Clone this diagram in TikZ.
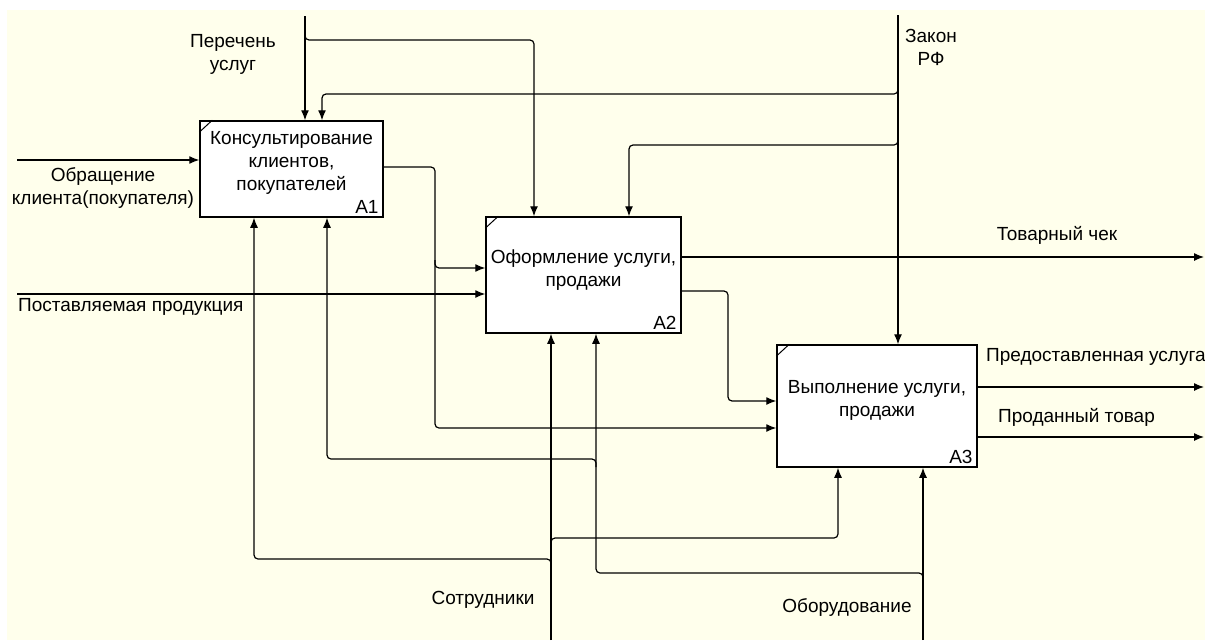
\documentclass[tikz,border=0pt]{standalone}
\usepackage{fontspec}
\setmainfont{Liberation Sans}
\usepackage{tikz}
\usetikzlibrary{arrows.meta}
\definecolor{fond}{RGB}{255,255,236}

\begin{document}
\begin{tikzpicture}[x=1pt, y=-1pt,
    fleche/.style={draw=black, line width=1.2pt, rounded corners=4pt, -{Latex[length=10pt,width=8pt]}},
    bloc/.style={draw=black, line width=1.5pt, fill=white, inner sep=0pt},
    texte/.style={font=\fontsize{19}{23}\selectfont, align=center, inner sep=0pt}]
    \useasboundingbox (0,0) rectangle (1205,640);
    \fill[fond] (7,10) rectangle (1205,640);

    % blocs
    \node[bloc, minimum width=183pt, minimum height=96pt] (a1) at (291.5,169) {};
    \node[bloc, minimum width=195pt, minimum height=116pt] (a2) at (583.5,275) {};
    \node[bloc, minimum width=200pt, minimum height=122pt] (a3) at (877,406) {};
    \draw[line width=1pt] ([yshift=-12pt]a1.north west) -- ([xshift=13pt]a1.north west);
    \draw[line width=1pt] ([yshift=-12pt]a2.north west) -- ([xshift=13pt]a2.north west);
    \draw[line width=1pt] ([yshift=-12pt]a3.north west) -- ([xshift=13pt]a3.north west);
    \node[texte] (t1) at ([yshift=6pt]a1.center) {Консультирование\\клиентов,\\покупателей};
    \node[texte] (t2) at ([yshift=5pt]a2.center) {Оформление услуги,\\продажи};
    \node[texte] (t3) at ([yshift=6pt]a3.center) {Выполнение услуги,\\продажи};
    \node[texte, anchor=south east] (n1) at ([shift={(-5pt,4pt)}]a1.south east) {A1};
    \node[texte, anchor=south east] (n2) at ([shift={(-5pt,4pt)}]a2.south east) {A2};
    \node[texte, anchor=south east] (n3) at ([shift={(-5pt,4pt)}]a3.south east) {A3};

    % extremites libres
    \coordinate (perecen) at (305,16);
    \coordinate (zakon) at (898,15);
    \coordinate (obr) at (17,160);
    \coordinate (post) at (17,294);
    \coordinate (sotr) at (551,640);
    \coordinate (obor) at (923,640);
    \coordinate (chek) at (1204,257);
    \coordinate (usl) at (1204,387);
    \coordinate (tovar) at (1204,437);

    % fleches principales
    \draw[fleche] (perecen) -- (perecen |- a1.north);
    \draw[fleche] (zakon) -- (zakon |- a3.north);
    \draw[fleche] (obr) -- (obr -| a1.west);
    \draw[fleche] (post) -- (post -| a2.west);
    \draw[fleche] (sotr) -- (sotr |- a2.south);
    \draw[fleche] (obor) -- (obor |- a3.south);
    \draw[fleche] (chek -| a2.east) -- (chek);
    \draw[fleche] (usl -| a3.east) -- (usl);
    \draw[fleche] (tovar -| a3.east) -- (tovar);

    % branches
    \draw[fleche] (305,30) |- (534,40) -- (534,0 |- a2.north);
    \draw[fleche] (898,86) |- (322,94) -- (322,0 |- a1.north);
    \draw[fleche] (898,137) |- (629,145) -- (629,0 |- a2.north);
    \draw[fleche] (a1.east |- 0,167) -- (435,167) |- (0,428 -| a3.west);
    \draw[fleche] (435,260) |- (0,268 -| a2.west);
    \draw[fleche] (a2.east |- 0,291) -- (728,291) |- (0,401 -| a3.west);
    \draw[fleche] (551,546) |- (838,538) -- (838,0 |- a3.south);
    \draw[fleche] (551,567) |- (254,559) -- (254,0 |- a1.south);
    \draw[fleche] (923,581) |- (596,573) -- (596,0 |- a2.south);
    \draw[fleche] (596,467) |- (327,459) -- (327,0 |- a1.south);

    % etiquettes
    \node[texte] (lperecen) at (233,54) {Перечень\\услуг};
    \node[texte] (lzakon) at (931,47) {Закон\\РФ};
    \node[texte] (lobr) at (103,188) {Обращение\\клиента(покупателя)};
    \node[texte, anchor=west] (lpost) at (18,307) {Поставляемая продукция};
    \node[texte] (lchek) at (1057,235) {Товарный чек};
    \node[texte, anchor=west] (lusl) at (986,357) {Предоставленная услуга};
    \node[texte, anchor=west] (ltovar) at (998,417) {Проданный товар};
    \node[texte] (lsotr) at (483,600) {Сотрудники};
    \node[texte] (lobor) at (847,607) {Оборудование};
\end{tikzpicture}
\end{document}
